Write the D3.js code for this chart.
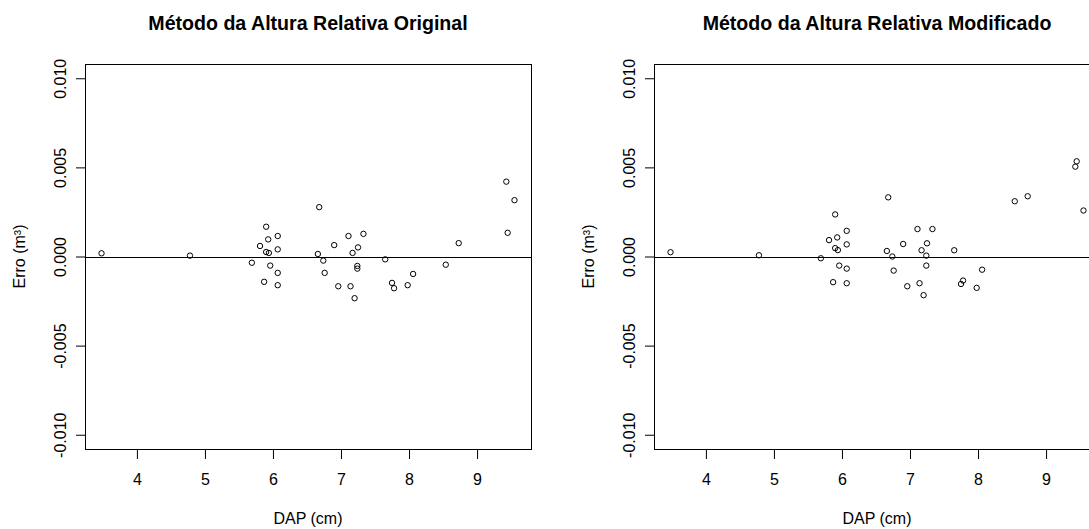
<!DOCTYPE html>
<html>
<head>
<meta charset="utf-8">
<script src="https://cdn.jsdelivr.net/npm/d3@7"></script>
<style>
  html, body { margin: 0; padding: 0; background: #fff; }
  svg { display: block; font-family: "Liberation Sans", Arial, sans-serif; }
</style>
</head>
<body>
<svg id="chart" width="1089" height="529"></svg>
<script>
// Diâmetro (DAP, cm) de cada árvore
const dap = [3.48, 4.78, 5.69, 5.81, 5.90, 5.93, 5.90, 5.94, 5.96, 5.87,
             6.07, 6.07, 6.07, 6.07, 6.68, 6.66, 6.74, 6.76, 6.90, 6.96,
             7.11, 7.14, 7.17, 7.25, 7.24, 7.24, 7.20, 7.33, 7.65, 7.75,
             7.78, 7.98, 8.06, 8.54, 8.73, 9.43, 9.55, 9.45];

// Erro de volume (m³) — método original
const erroOriginal = [0.00018, 0.00005, -0.00035, 0.00059, 0.00167, 0.00096, 0.00025, 0.00020, -0.00051, -0.00142,
                      0.00115, 0.00040, -0.00092, -0.00161, 0.00277, 0.00014, -0.00023, -0.00092, 0.00064, -0.00167,
                      0.00115, -0.00167, 0.00020, 0.00051, -0.00053, -0.00068, -0.00234, 0.00127, -0.00016, -0.00148,
                      -0.00178, -0.00161, -0.00098, -0.00046, 0.00075, 0.00420, 0.00316, 0.00133];

// Erro de volume (m³) — método modificado
const erroModificado = [0.00024, 0.00007, -0.00010, 0.00092, 0.00236, 0.00107, 0.00047, 0.00036, -0.00051, -0.00144,
                        0.00144, 0.00068, -0.00068, -0.00150, 0.00332, 0.00031, 0.00000, -0.00079, 0.00070, -0.00167,
                        0.00154, -0.00150, 0.00035, 0.00074, 0.00005, -0.00051, -0.00217, 0.00154, 0.00035, -0.00154,
                        -0.00135, -0.00176, -0.00074, 0.00310, 0.00338, 0.00504, 0.00258, 0.00534];

const xTicks = [4, 5, 6, 7, 8, 9];
const yTicks = [-0.010, -0.005, 0.000, 0.005, 0.010];
const titles = ["Método da Altura Relativa Original", "Método da Altura Relativa Modificado"];
const xLabel = "DAP (cm)";
const yLabel = "Erro (m³)";

const svg = d3.select("#chart");

// R-style 4% padding around the data range
function padded(lo, hi) {
  const d = (hi - lo) * 0.04;
  return [lo - d, hi + d];
}
const xDom = padded(d3.min(dap), d3.max(dap));
const yDom = padded(-0.01, 0.01);

const panelW = 446, boxTop = 64, boxBottom = 449;
const panels = [
  { left: 85, erro: erroOriginal, title: titles[0] },
  { left: 654, erro: erroModificado, title: titles[1] }
];

panels.forEach(p => {
  const x = d3.scaleLinear().domain(xDom).range([p.left, p.left + panelW]);
  const y = d3.scaleLinear().domain(yDom).range([boxBottom, boxTop]);
  const g = svg.append("g");

  // horizontal reference at zero
  g.append("line")
    .attr("x1", p.left).attr("x2", p.left + panelW)
    .attr("y1", Math.round(y(0)) + 0.5).attr("y2", Math.round(y(0)) + 0.5)
    .attr("stroke", "#000").attr("stroke-width", 1);

  // points
  g.selectAll("circle.pt")
    .data(dap.map((d, i) => [d, p.erro[i]]))
    .join("circle")
    .attr("class", "pt")
    .attr("cx", d => x(d[0]))
    .attr("cy", d => y(d[1]))
    .attr("r", 2.7)
    .attr("fill", "none")
    .attr("stroke", "#000")
    .attr("stroke-width", 1);

  // plot box
  g.append("rect")
    .attr("x", p.left + 0.5).attr("y", boxTop + 0.5)
    .attr("width", panelW).attr("height", boxBottom - boxTop)
    .attr("fill", "none").attr("stroke", "#000").attr("stroke-width", 1);

  // x axis
  const xa = g.append("g").attr("transform", `translate(0,${boxBottom + 0.5})`)
    .call(d3.axisBottom(x).tickValues(xTicks).tickSize(9.5).tickPadding(0).tickFormat(d3.format("d")));
  xa.select(".domain")
    .attr("d", `M${x(xTicks[0])},0H${x(xTicks[xTicks.length - 1])}`)
    .attr("stroke", "#000");
  xa.selectAll(".tick line").attr("stroke", "#000");
  xa.selectAll(".tick text")
    .attr("y", 35).attr("dy", null)
    .attr("font-size", 16).attr("fill", "#000")
    .attr("font-family", "Liberation Sans, Arial, sans-serif");

  // y axis
  const ya = g.append("g").attr("transform", `translate(${p.left + 0.5},0)`)
    .call(d3.axisLeft(y).tickValues(yTicks).tickSize(9.5).tickFormat(d3.format(".3f")));
  ya.select(".domain")
    .attr("d", `M0,${y(yTicks[0])}V${y(yTicks[yTicks.length - 1])}`)
    .attr("stroke", "#000");
  ya.selectAll(".tick line").attr("stroke", "#000");
  ya.selectAll(".tick text")
    .attr("x", null).attr("dy", null)
    .attr("transform", "translate(-20,0) rotate(-90)")
    .attr("text-anchor", "middle")
    .attr("font-size", 16).attr("fill", "#000")
    .attr("font-family", "Liberation Sans, Arial, sans-serif")
    .text(d => d3.format(".3f")(d).replace("−", "-"));

  // titles
  g.append("text")
    .attr("x", p.left + panelW / 2).attr("y", 30)
    .attr("text-anchor", "middle")
    .attr("font-size", 19.6).attr("font-weight", "bold")
    .text(p.title);

  g.append("text")
    .attr("x", p.left + panelW / 2).attr("y", 524)
    .attr("text-anchor", "middle")
    .attr("font-size", 16)
    .text(xLabel);

  g.append("text")
    .attr("transform", `translate(${p.left - 60},${y(0)}) rotate(-90)`)
    .attr("text-anchor", "middle")
    .attr("font-size", 16)
    .text(yLabel);
});
</script>
</body>
</html>
